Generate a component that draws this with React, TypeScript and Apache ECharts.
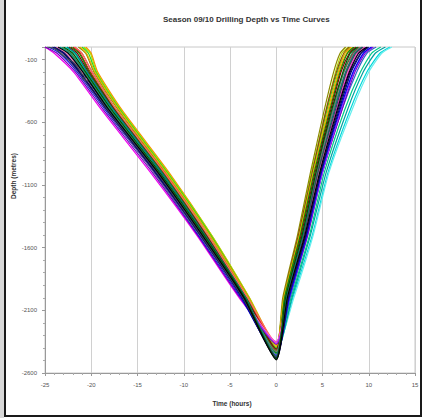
import React, { useEffect, useRef } from 'react';
import * as echarts from 'echarts';

const TITLE = 'Season 09/10 Drilling Depth vs Time Curves';
const X_NAME = 'Time (hours)';
const Y_NAME = 'Depth (metres)';

const X_MIN = -25;
const X_MAX = 15;
const X_STEP = 5;
const Y_MIN = -2600;
const Y_MAX = 0;
const Y_STEP = 500;

// depth levels (m) at which each curve's time (h) was read
const DESCENT_DEPTHS = [0, -50, -200, -500, -1000, -1500, -2000];
const ASCENT_DEPTHS = [-2000, -1500, -1000, -500, -200, -50, 0];

const CURVE_COLORS = [
  '#00d8d8', '#66eeee', '#00a0a0', '#00cc88', '#3366cc',
  '#ff8800', '#b5d800', '#22dd22', '#8c8c00', '#8b4513',
  '#e0b000', '#e00000', '#009900', '#800000', '#ff6666',
  '#2e8b57', '#ee00ee', '#ff77bb', '#7700bb', '#9933ff',
  '#0000ee', '#777777', '#008080', '#000080', '#101060',
  '#3a4a5a', '#005500', '#000000',
];

const DESCENT_TIMES = [
  [-22.8, -21.8, -20.5, -17.7, -12.5, -7.7, -3.4],
  [-23.4, -22.3, -20.8, -18.0, -12.8, -7.9, -3.5],
  [-23.4, -22.3, -20.8, -18.0, -12.8, -7.9, -3.5],
  [-22.6, -21.7, -20.4, -17.6, -12.4, -7.7, -3.3],
  [-24.0, -22.9, -21.2, -18.3, -13.0, -8.2, -3.6],
  [-20.6, -20.0, -19.3, -16.7, -11.6, -7.0, -2.9],
  [-20.8, -20.1, -19.4, -16.8, -11.7, -7.0, -2.9],
  [-21.0, -20.3, -19.5, -16.9, -11.8, -7.1, -3.0],
  [-21.4, -20.6, -19.7, -17.1, -12.0, -7.2, -3.0],
  [-21.8, -21.0, -19.9, -17.3, -12.1, -7.4, -3.1],
  [-21.2, -20.5, -19.6, -17.0, -11.9, -7.2, -3.0],
  [-22.0, -21.2, -20.1, -17.4, -12.2, -7.5, -3.2],
  [-22.2, -21.3, -20.2, -17.4, -12.3, -7.5, -3.2],
  [-22.4, -21.5, -20.3, -17.5, -12.4, -7.6, -3.3],
  [-21.8, -21.0, -19.9, -17.3, -12.1, -7.4, -3.1],
  [-23.2, -22.2, -20.7, -17.9, -12.7, -7.9, -3.4],
  [-25.0, -24.0, -21.9, -18.9, -13.6, -8.6, -4.0],
  [-23.8, -22.7, -21.0, -18.2, -12.9, -8.1, -3.6],
  [-25.0, -23.7, -21.7, -18.7, -13.4, -8.5, -3.9],
  [-24.2, -23.0, -21.3, -18.3, -13.1, -8.2, -3.7],
  [-24.6, -23.4, -21.5, -18.5, -13.2, -8.4, -3.8],
  [-24.4, -23.2, -21.4, -18.4, -13.2, -8.3, -3.7],
  [-22.6, -21.7, -20.4, -17.6, -12.4, -7.7, -3.3],
  [-24.2, -23.0, -21.3, -18.3, -13.1, -8.2, -3.7],
  [-24.0, -22.9, -21.2, -18.3, -13.0, -8.2, -3.6],
  [-23.8, -22.7, -21.0, -18.2, -12.9, -8.1, -3.6],
  [-23.0, -22.0, -20.6, -17.8, -12.6, -7.8, -3.4],
  [-23.6, -22.5, -20.9, -18.1, -12.8, -8.0, -3.5],
];

// the grey curve with a kink near the surface: [time, depth] pairs down to ~-275 m
const KINKED_CURVE_INDEX = 25;
const KINKED_TOP = [
  [-24.8, 0], [-23.9, -14], [-23.3, -54], [-22.6, -94], [-22.0, -118],
  [-21.5, -158], [-21.0, -214], [-20.6, -240], [-21.0, -250], [-20.3, -275],
];

const BOTTOM_DEPTHS = [
  -2420, -2400, -2440, -2410, -2430,
  -2380, -2390, -2400, -2420, -2430,
  -2390, -2370, -2440, -2410, -2360,
  -2450, -2350, -2355, -2370, -2365,
  -2460, -2430, -2470, -2480, -2490,
  -2470, -2485, -2495,
];

const ASCENT_TIMES = [
  [1.8, 3.9, 5.6, 8.0, 9.8, 11.2, 12.3],
  [1.9, 4.0, 5.7, 8.2, 10.0, 11.4, 12.5],
  [1.7, 3.7, 5.4, 7.7, 9.4, 10.7, 11.8],
  [1.6, 3.6, 5.2, 7.4, 9.1, 10.3, 11.3],
  [1.5, 3.4, 5.0, 7.1, 8.7, 9.8, 10.8],
  [0.9, 2.6, 4.0, 5.7, 6.8, 7.6, 8.3],
  [0.8, 2.4, 3.8, 5.4, 6.4, 7.1, 7.8],
  [0.8, 2.5, 3.9, 5.5, 6.6, 7.4, 8.0],
  [0.7, 2.3, 3.7, 5.2, 6.2, 6.9, 7.5],
  [0.8, 2.4, 3.9, 5.4, 6.5, 7.3, 7.9],
  [0.8, 2.5, 4.0, 5.6, 6.7, 7.4, 8.1],
  [1.1, 2.8, 4.4, 6.1, 7.3, 8.3, 9.0],
  [0.9, 2.6, 4.1, 5.8, 6.9, 7.7, 8.4],
  [1.0, 2.7, 4.2, 5.9, 7.0, 7.9, 8.6],
  [1.1, 2.9, 4.5, 6.3, 7.6, 8.5, 9.3],
  [1.0, 2.8, 4.3, 6.1, 7.3, 8.2, 8.9],
  [1.2, 3.1, 4.6, 6.5, 7.8, 8.8, 9.6],
  [1.2, 3.0, 4.6, 6.4, 7.7, 8.7, 9.5],
  [1.4, 3.4, 5.0, 7.1, 8.5, 9.6, 10.5],
  [1.4, 3.3, 5.0, 7.0, 8.4, 9.5, 10.4],
  [1.4, 3.3, 4.9, 6.9, 8.3, 9.4, 10.3],
  [1.1, 2.9, 4.4, 6.2, 7.5, 8.4, 9.2],
  [1.1, 2.9, 4.5, 6.3, 7.5, 8.5, 9.3],
  [1.3, 3.2, 4.8, 6.8, 8.1, 9.2, 10.0],
  [1.3, 3.2, 4.8, 6.7, 8.0, 9.1, 9.9],
  [1.2, 3.0, 4.5, 6.4, 7.6, 8.6, 9.4],
  [1.0, 2.8, 4.3, 6.0, 7.2, 8.0, 8.8],
  [1.2, 3.1, 4.7, 6.6, 7.9, 8.9, 9.8],
];

const FONT = 'Liberation Sans, Arial, sans-serif';

function buildSeries() {
  return CURVE_COLORS.map((color, i) => {
    const top =
      i === KINKED_CURVE_INDEX
        ? KINKED_TOP.concat(
            DESCENT_DEPTHS.slice(3).map((d, k) => [DESCENT_TIMES[i][k + 3], d])
          )
        : DESCENT_DEPTHS.map((d, k) => [DESCENT_TIMES[i][k], d]);
    const bottom = [[0, BOTTOM_DEPTHS[i]]];
    const up = ASCENT_DEPTHS.map((d, k) => [ASCENT_TIMES[i][k], d]);
    return {
      type: 'line',
      name: 'well ' + (i + 1),
      data: top.concat(bottom, up),
      showSymbol: false,
      smooth: 0.2,
      lineStyle: { color, width: 1.2 },
      itemStyle: { color },
      emphasis: { disabled: true },
      z: 2,
    };
  });
}

export default function App() {
  const ref = useRef<HTMLDivElement>(null);
  useEffect(() => {
    document.body.style.margin = '0';
    const chart = echarts.init(ref.current!, undefined, { renderer: 'svg' });
    chart.setOption({
      animation: false,
      backgroundColor: '#ffffff',
      title: {
        text: TITLE,
        left: 158,
        top: 10,
        textStyle: { fontSize: 8, fontWeight: 'bold', color: '#333', fontFamily: FONT },
      },
      grid: {
        left: 45,
        right: 9,
        top: 47,
        bottom: 45,
        show: true,
        borderColor: '#c8c8c8',
        borderWidth: 1,
      },
      xAxis: {
        type: 'value',
        min: X_MIN,
        max: X_MAX,
        interval: X_STEP,
        axisLine: { show: true, onZero: false, lineStyle: { color: '#999', width: 1 } },
        axisTick: { show: true, length: 3, lineStyle: { color: '#999' } },
        minorTick: { show: true, splitNumber: 5, length: 2, lineStyle: { color: '#aaa' } },
        splitLine: { show: true, lineStyle: { color: '#d0d0d0', width: 1 } },
        axisLabel: { fontSize: 6, color: '#555', margin: 9, fontFamily: FONT, formatter: (v: number) => String(v) },
      },
      yAxis: {
        type: 'value',
        min: Y_MIN,
        max: Y_MAX,
        interval: Y_STEP,
        axisLine: { show: true, onZero: false, lineStyle: { color: '#999', width: 1 } },
        axisTick: { show: true, length: 3, lineStyle: { color: '#999' } },
        minorTick: { show: true, splitNumber: 5, length: 2, lineStyle: { color: '#aaa' } },
        splitLine: { show: false },
        axisLabel: {
          fontSize: 6,
          color: '#555',
          margin: 8,
          showMaxLabel: false,
          fontFamily: FONT,
          formatter: (v: number) => String(v),
        },
      },
      graphic: [
        { type: 'rect', shape: { x: 0, y: 0, width: 4, height: 418 }, style: { fill: '#d8d8d8' }, silent: true },
        {
          type: 'polyline',
          shape: { points: [[5, 0], [5, 416], [421, 416], [421, 0]] },
          style: { stroke: '#1a1a1a', lineWidth: 2, fill: null },
          silent: true,
        },
        {
          type: 'text',
          x: 232,
          y: 403,
          style: {
            text: X_NAME,
            font: 'bold 6.5px ' + FONT,
            fill: '#333',
            align: 'center',
            verticalAlign: 'middle',
            textAlign: 'center',
            textVerticalAlign: 'middle',
          },
          silent: true,
        },
        {
          type: 'text',
          x: 13,
          y: 176,
          rotation: Math.PI / 2,
          style: {
            text: Y_NAME,
            font: 'bold 6.5px ' + FONT,
            fill: '#333',
            align: 'center',
            verticalAlign: 'middle',
            textAlign: 'center',
            textVerticalAlign: 'middle',
          },
          silent: true,
        },
      ],
      series: buildSeries(),
    });
    return () => chart.dispose();
  }, []);
  return <div ref={ref} style={{ width: 424, height: 418, position: 'absolute', left: 0, top: 0 }} />;
}
